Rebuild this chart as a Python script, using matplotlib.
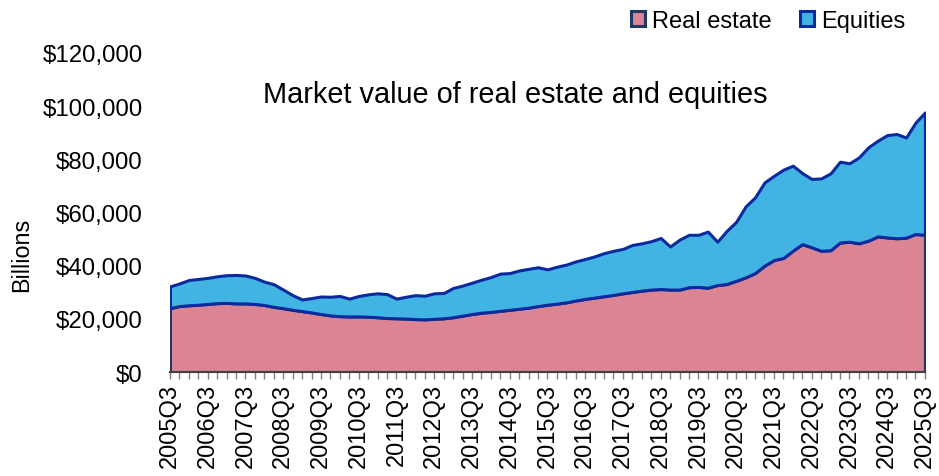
import matplotlib
matplotlib.use("Agg")
import matplotlib.pyplot as plt
from matplotlib.ticker import FuncFormatter, MultipleLocator
import numpy as np

plt.rcParams['font.family'] = ['Liberation Sans', 'DejaVu Sans']

# quarterly, 2005Q3 .. 2025Q3, billions of dollars
quarters = [f"{y}Q{q}" for y in range(2005, 2026) for q in (1, 2, 3, 4)][2:-1]

real_estate = [
    24000, 24800, 25100, 25300, 25600, 25900, 26000, 25800, 25800, 25600,
    25200, 24500, 24000, 23400, 22900, 22400, 21800, 21300, 21000, 20900,
    20900, 20800, 20600, 20300, 20200, 20100, 19900, 19800, 20000, 20200,
    20600, 21200, 21800, 22300, 22600, 23000, 23400, 23800, 24200, 24800,
    25300, 25700, 26200, 26900, 27500, 28000, 28500, 29000, 29600, 30100,
    30600, 31000, 31200, 31000, 31000, 31900, 32000, 31700, 32700, 33100,
    34300, 35600, 37200, 40000, 42100, 42900, 45600, 48100, 46900, 45600,
    45800, 48700, 49000, 48400, 49400, 51000, 50600, 50300, 50500, 51900,
    51600,
]

equities = [
    8200, 8500, 9500, 9700, 9800, 10100, 10400, 10700, 10500, 9800,
    8800, 8500, 7000, 5500, 4400, 5400, 6600, 7000, 7600, 6700,
    7700, 8400, 9000, 9000, 7400, 8200, 9000, 8900, 9600, 9500,
    11000, 11300, 11800, 12400, 13100, 14000, 13800, 14400, 14600, 14600,
    13300, 13900, 14200, 14700, 15000, 15500, 16200, 16600, 16700, 17700,
    17800, 18200, 19200, 16200, 18800, 19700, 19600, 21100, 16300, 20000,
    22200, 26700, 28500, 31300, 31700, 33200, 32000, 26700, 25700, 27200,
    28900, 30400, 29500, 32300, 35100, 36000, 38500, 39200, 37700, 41900,
    46000,
]

re_color = '#DB8494'
eq_color = '#41B4E4'

x = np.arange(len(quarters))
re = np.array(real_estate)
total = re + np.array(equities)

fig = plt.figure(figsize=(9.39, 4.77), dpi=100)
ax = fig.add_axes([0.181, 0.218, 0.804, 0.669])

ax.fill_between(x, 0, re, facecolor=re_color, edgecolor='#1F3864', linewidth=2.2, label='Real estate', zorder=2)
ax.fill_between(x, re, total, facecolor=eq_color, edgecolor='#0A2A9E', linewidth=2.2, label='Equities', zorder=3)

ax.set_xlim(0, len(quarters) - 1)
ax.set_ylim(0, 120000)
ax.yaxis.set_major_locator(MultipleLocator(20000))
ax.yaxis.set_major_formatter(FuncFormatter(lambda v, p: f"${v:,.0f}"))

ax.set_xticks(x[::4])
ax.set_xticklabels(quarters[::4], rotation=90)
ax.set_xticks(x, minor=True)
ax.tick_params(axis='x', which='both', length=5, color='#808080', width=1, labelsize=17, pad=3)
ax.tick_params(axis='y', length=0, labelsize=17.3, pad=19.5)

for s in ['top', 'right', 'left']:
    ax.spines[s].set_visible(False)
ax.spines['bottom'].set_color('#404040')
ax.spines['bottom'].set_linewidth(1.5)
ax.spines['bottom'].set_zorder(4)

ax.set_ylabel('Billions', fontsize=16.8)
ax.yaxis.set_label_coords(-0.181, 0.37)
ax.text(0.458, 0.872, 'Market value of real estate and equities', transform=ax.transAxes,
        ha='center', va='center', fontsize=20.8)

ax.legend(loc='upper right', bbox_to_anchor=(0.987, 1.165), ncol=2, frameon=False, fontsize=17,
          handlelength=0.6, handleheight=0.6, handletextpad=0.3, columnspacing=1.2, borderaxespad=0)

fig.savefig('out.png', dpi=100)
